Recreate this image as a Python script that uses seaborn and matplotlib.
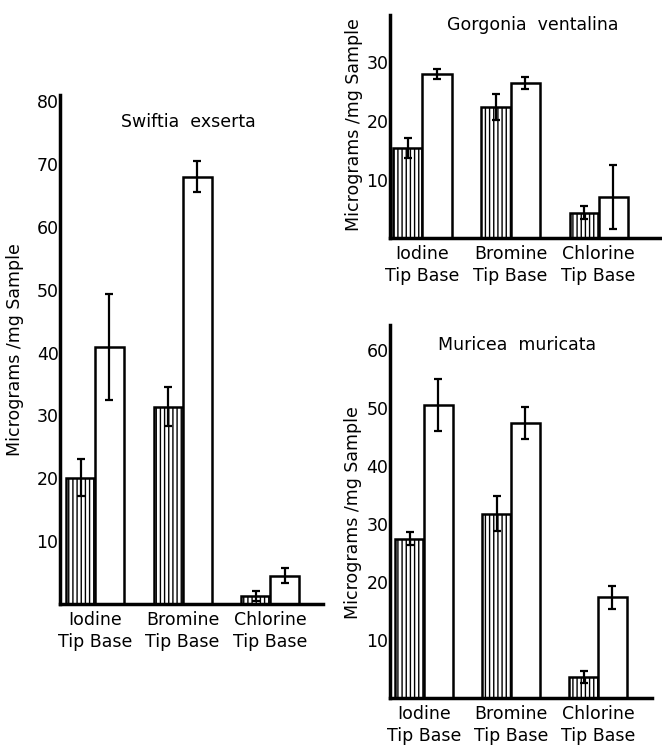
import pandas as pd
import matplotlib
matplotlib.use("Agg")
import matplotlib.pyplot as plt
import seaborn as sns

sns.set_style("white")
plt.rcParams['font.family'] = ['DejaVu Sans']
plt.rcParams['hatch.linewidth'] = 1.0
plt.rcParams.update({'text.color': 'black', 'axes.labelcolor': 'black',
                     'xtick.color': 'black', 'ytick.color': 'black'})

elements = ['Iodine', 'Bromine', 'Chlorine']
parts = ['Tip', 'Base']
ylabel = 'Micrograms /mg Sample'

# Swiftia exserta
swiftia_tip = [20.1, 31.4, 1.3]
swiftia_base = [40.9, 68.0, 4.5]
swiftia_tip_err = [2.9, 3.1, 0.8]
swiftia_base_err = [8.5, 2.5, 1.2]

# Gorgonia ventalina
gorgonia_tip = [15.4, 22.4, 4.3]
gorgonia_base = [28.0, 26.5, 7.0]
gorgonia_tip_err = [1.7, 2.2, 1.1]
gorgonia_base_err = [0.9, 1.0, 5.4]

# Muricea muricata
muricea_tip = [27.5, 31.8, 3.6]
muricea_base = [50.6, 47.5, 17.4]
muricea_tip_err = [1.1, 3.0, 1.0]
muricea_base_err = [4.5, 2.8, 2.0]


def draw_panel(ax, title, tip, base, tip_err, base_err, ylim, yticks, xlim,
               title_xy, ylabel_xy):
    df = pd.DataFrame({
        'element': elements * 2,
        'part': [parts[0]] * 3 + [parts[1]] * 3,
        'value': tip + base,
    })
    sns.barplot(data=df, x='element', y='value', hue='part',
                order=elements, hue_order=parts,
                palette=['white', 'white'], saturation=1,
                edgecolor='black', linewidth=1.8, width=0.66,
                errorbar=None, legend=False, ax=ax)

    # hatch tip bars and add error bars at the bar centres
    for container, errs, hatch in zip(ax.containers, [tip_err, base_err], ['||||', None]):
        for bar, e in zip(container, errs):
            if hatch:
                bar.set_hatch(hatch)
            cx = bar.get_x() + bar.get_width() / 2
            ax.errorbar(cx, bar.get_height(), yerr=e, color='black',
                        capsize=3.2, elinewidth=1.6, capthick=1.6)

    ax.set_xlim(*xlim)
    ax.set_ylim(*ylim)
    ax.set_yticks(yticks)
    ax.set_xticks(range(len(elements)))
    ax.set_xticklabels([f"{e}\n{' '.join(parts)}" for e in elements], linespacing=1.3)
    ax.set_xlabel('')
    ax.set_ylabel(ylabel, fontsize=12.5)
    ax.yaxis.set_label_coords(*ylabel_xy)
    ax.tick_params(axis='y', length=0, pad=1, labelsize=12.5)
    ax.tick_params(axis='x', length=0, pad=5, labelsize=12.5)

    sns.despine(ax=ax)
    for side in ['left', 'bottom']:
        ax.spines[side].set_linewidth(2.5)
        ax.spines[side].set_color('black')

    ax.text(title_xy[0], title_xy[1], title, transform=ax.transAxes,
            ha='center', va='center', fontsize=12.5)


fig = plt.figure(figsize=(6.62, 7.45), dpi=100)
ax_left = fig.add_axes([0.0906, 0.1893, 0.397, 0.6832])
ax_top = fig.add_axes([0.589, 0.6805, 0.411, 0.2993])
ax_bot = fig.add_axes([0.589, 0.0631, 0.396, 0.5007])

draw_panel(ax_left, 'Swiftia  exserta', swiftia_tip, swiftia_base,
           swiftia_tip_err, swiftia_base_err,
           (0, 81), range(10, 81, 10), (-0.4, 2.6), (0.487, 0.947), (-0.137, 0.5))
draw_panel(ax_top, 'Gorgonia  ventalina', gorgonia_tip, gorgonia_base,
           gorgonia_tip_err, gorgonia_base_err,
           (0, 38.1), [10, 20, 30], (-0.37, 2.72), (0.526, 0.955), (-0.10, 0.51))
draw_panel(ax_bot, 'Muricea  muricata', muricea_tip, muricea_base,
           muricea_tip_err, muricea_base_err,
           (0, 64.4), range(10, 61, 10), (-0.39, 2.62), (0.485, 0.946), (-0.107, 0.496))

fig.savefig('out.png', dpi=100)
